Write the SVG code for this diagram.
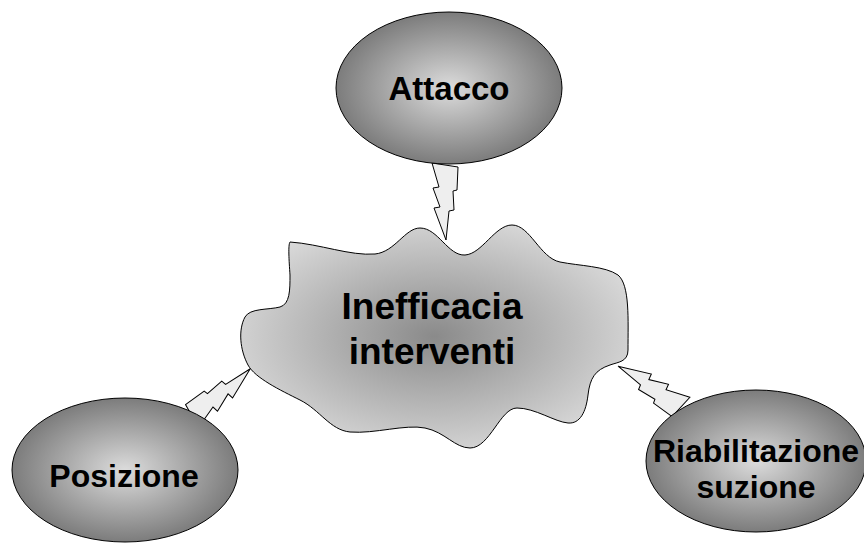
<svg xmlns="http://www.w3.org/2000/svg" width="864" height="543" viewBox="0 0 864 543">
<defs>
<radialGradient id="ell" cx="50%" cy="50%" r="50%">
<stop offset="0" stop-color="#dcdcdc"/>
<stop offset="1" stop-color="#7c7c7c"/>
</radialGradient>
<radialGradient id="cloud" cx="50%" cy="50%" r="55%">
<stop offset="0" stop-color="#8a8a8a"/>
<stop offset="1" stop-color="#d8d8d8"/>
</radialGradient>
<path id="bolt" d="M-13,-2 L-6,22 L-12,23 L-5,42 L-11,43 L1,75 L4,46 L9,45 L8,26 L12,25 L13,2 Z"/>
</defs>
<style>
.node{stroke:#000;stroke-width:1}
.bolt{fill:#eeeeee;stroke:#000;stroke-width:1}
.t{font-family:"Liberation Sans",Arial,sans-serif;font-weight:bold;fill:#000;text-anchor:middle}
</style>
<rect width="864" height="543" fill="#fff"/>
<g id="connectors">
<use href="#bolt" class="bolt" transform="translate(445,165)"/>
<use href="#bolt" class="bolt" transform="translate(192,416) rotate(-128.3)"/>
<use href="#bolt" class="bolt" transform="translate(681,407) rotate(123.7)"/>
</g>
<g id="attacco">
<ellipse class="node" cx="449" cy="88" rx="113" ry="76" fill="url(#ell)"/>
<text class="t" x="449" y="100" font-size="33">Attacco</text>
</g>
<g id="posizione">
<ellipse class="node" cx="125" cy="470" rx="113" ry="72" fill="url(#ell)"/>
<text class="t" x="124" y="487" font-size="32">Posizione</text>
</g>
<g id="riabilitazione">
<ellipse class="node" cx="756" cy="461" rx="110" ry="71" fill="url(#ell)"/>
<text class="t" x="756" y="462" font-size="32">Riabilitazione</text>
<text class="t" x="756" y="498" font-size="32">suzione</text>
</g>
<g id="inefficacia">
<path class="node" fill="url(#cloud)" d="M290,242 C320,244 350,256 375,254 C395,252 405,228 420,228 C438,228 448,256 465,255 C482,254 495,225 512,225 C530,225 540,258 560,262 C580,266 605,266 618,275 C630,285 628,320 628,350 C628,362 618,362 610,365 C595,370 590,378 588,395 C586,412 580,424 568,423 C555,422 535,408 517,408 C500,408 490,448 470,448 C455,448 445,432 425,428 C405,424 375,434 350,432 C330,430 320,410 300,400 C280,390 255,378 248,365 C240,350 238,330 245,317 C250,308 268,310 280,307 C290,304 290,290 290,275 C289,260 288,245 290,242 Z"/>
<text class="t" x="432" y="319" font-size="37">Inefficacia</text>
<text class="t" x="432" y="364" font-size="37">interventi</text>
</g>
</svg>
